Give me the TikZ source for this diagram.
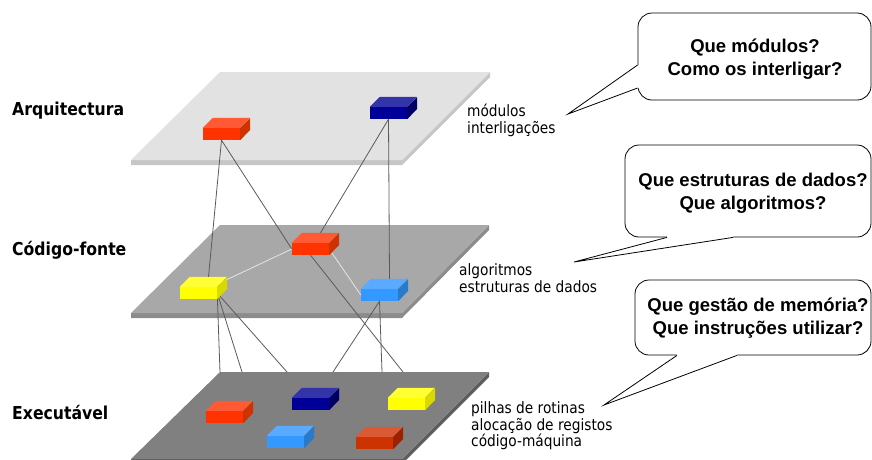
\documentclass[tikz,border=0pt]{standalone}
\usepackage{fontspec}
\setmainfont{Liberation Sans}
\newfontfamily\tahoma[FakeStretch=0.88]{DejaVu Sans}
\usetikzlibrary{calc}

\pgfdeclarelayer{planes}
\pgfdeclarelayer{links}
\pgfsetlayers{planes,links,main}

% plane colours: face / edge
\definecolor{pOneF}{HTML}{E2E2E2}\definecolor{pOneS}{HTML}{C6C6C6}
\definecolor{pTwoF}{HTML}{A8A8A8}\definecolor{pTwoS}{HTML}{8C8C8C}
\definecolor{pThrF}{HTML}{808080}\definecolor{pThrS}{HTML}{5E5E5E}
% block colours: front / top / side
\definecolor{redF}{HTML}{FF3300}\definecolor{redT}{HTML}{FF5A33}\definecolor{redS}{HTML}{CC3300}
\definecolor{navF}{HTML}{000099}\definecolor{navT}{HTML}{3333AA}\definecolor{navS}{HTML}{000066}
\definecolor{yelF}{HTML}{FFFF00}\definecolor{yelT}{HTML}{FFFF33}\definecolor{yelS}{HTML}{D9D900}
\definecolor{skyF}{HTML}{3399FF}\definecolor{skyT}{HTML}{5AAAFF}\definecolor{skyS}{HTML}{2A7ACC}
\definecolor{rstF}{HTML}{CC3300}\definecolor{rstT}{HTML}{D95A33}\definecolor{rstS}{HTML}{992200}
\definecolor{linkC}{HTML}{5A5A5A}
\definecolor{linkL}{HTML}{E4E4E4}

\tikzset{
  blockfront/.style={rectangle, inner sep=0pt, minimum width=37pt, minimum height=12pt, draw=none},
  link/.style={draw=linkC, line width=0.8pt},
  lightlink/.style={draw=linkL, line width=0.8pt},
  levelname/.style={anchor=west, inner sep=0pt, font=\tahoma\bfseries\fontsize{17.8}{21}\selectfont},
  levelnote/.style={anchor=north west, inner sep=0pt, align=left, font=\tahoma\fontsize{15.6}{16.7}\selectfont},
  callout/.style={rectangle, draw=black, line width=0.8pt, fill=white, rounded corners=14pt, inner sep=0pt},
  callouttext/.style={inner sep=0pt, align=center, font=\bfseries\fontsize{18.5}{23}\selectfont},
  pointer/.style={draw=black, line width=0.8pt},
}

% a small 3-D block: name, centre of front face, front / top / side colours
\newcommand{\block}[5]{%
  \node[blockfront, fill=#3] (#1) at (#2) {};
  \fill[#4] (#1.north west) -- ++(10,-10) -- ++(37,0) -- (#1.north east) -- cycle;
  \fill[#5] (#1.north east) -- ++(10,-10) -- ++(0,12) -- (#1.south east) -- cycle;
  \coordinate (#1-top) at ($(#1.north)+(10,-10)$);
}

\begin{document}
\begin{tikzpicture}[x=1pt, y=-1pt]
\useasboundingbox (0,0) rectangle (872,459);

% ---------- the three layers ----------
\begin{pgfonlayer}{planes}
  \fill[pOneS] (131,160) -- (402,160) -- (490,72) -- (490,77) -- (402,165) -- (131,165) -- cycle;
  \fill[pOneF] (220,72) -- (490,72) -- (402,160) -- (131,160) -- cycle;
  \fill[pTwoS] (131,313) -- (402,313) -- (489,225) -- (489,230) -- (402,318) -- (131,318) -- cycle;
  \fill[pTwoF] (220,225) -- (489,225) -- (402,313) -- (131,313) -- cycle;
  \fill[pThrS] (131,459) -- (402,459) -- (489,372) -- (489,377) -- (402,464) -- (131,464) -- cycle;
  \fill[pThrF] (220,372) -- (489,372) -- (402,459) -- (131,459) -- cycle;
\end{pgfonlayer}

% ---------- blocks ----------
% architecture
\block{aRed}{221.5,134}{redF}{redT}{redS}
\block{aNav}{388.5,113}{navF}{navT}{navS}
% source code
\block{sRed}{310.5,249}{redF}{redT}{redS}
\block{sYel}{198.5,293}{yelF}{yelT}{yelS}
\block{sSky}{379.5,295}{skyF}{skyT}{skyS}
% executable
\block{eRed}{224.5,417}{redF}{redT}{redS}
\block{eNav}{310.5,404}{navF}{navT}{navS}
\block{eYel}{406.5,404}{yelF}{yelT}{yelS}
\block{eSky}{285.5,442}{skyF}{skyT}{skyS}
\block{eRst}{374.5,443}{rstF}{rstT}{rstS}

% points on the upper edge of the executable layer
\coordinate (edgeA) at (220,372);
\coordinate (edgeB) at (242,372);
\coordinate (edgeC) at (287,372);
\coordinate (edgeD) at (333,372);
\coordinate (edgeE) at (382,372);
\coordinate (edgeF) at (403,372);

% ---------- connectors ----------
\begin{pgfonlayer}{links}
  \draw[link] (aRed.south) -- (sYel-top);
  \draw[link] (aRed.south) -- (sRed.west);
  \draw[link] (aNav.south) -- (sSky-top);
  \draw[link] (aNav.south) -- (sRed-top);
  \draw[lightlink] (sYel.center) -- (sRed.west);
  \draw[lightlink] (sRed.east) -- (sSky.west);
  \draw[link] (sYel.east) -- (edgeA);
  \draw[link] (sYel.east) -- (edgeB);
  \draw[link] (sYel.east) -- (edgeC);
  \draw[link] (sSky.south) -- (edgeD);
  \draw[link] (sSky.south) -- (edgeE);
  \draw[link] (sRed.south) -- (edgeF);
\end{pgfonlayer}

% ---------- level names ----------
\node[levelname] (nArq) at (12,111) {Arquitectura};
\node[levelname] (nCod) at (12,250) {Código-fonte};
\node[levelname] (nExe) at (12,412) {Executável};

% ---------- level notes ----------
\node[levelnote] (tArq) at (467,104) {módulos\\interligações};
\node[levelnote] (tCod) at (459,263.5) {algoritmos\\estruturas de dados};
\node[levelnote] (tExe) at (471,401.5) {pilhas de rotinas\\alocação de registos\\código-máquina};

% ---------- callouts ----------
\node[callout, minimum width=233pt, minimum height=87pt] (qArq) at (754.5,56.5) {};
\node[callout, minimum width=246pt, minimum height=92pt] (qCod) at (748,191) {};
\node[callout, minimum width=236pt, minimum height=75pt] (qExe) at (753,317.5) {};

\coordinate (tipArq) at (568,114);
\coordinate (tipCod) at (574,262);
\coordinate (tipExe) at (604,405);

% pointer of the architecture callout (left side)
\coordinate (aOne) at ($(qArq.west)+(0,8.5)$);
\coordinate (aTwo) at ($(qArq.west)+(0,31.5)$);
\fill[white] (aOne) -- (tipArq) -- (aTwo) -- ($(aTwo)+(2,0)$) -- ($(aOne)+(2,0)$) -- cycle;
\draw[pointer] (aOne) -- (tipArq) -- (aTwo);

% pointer of the source-code callout (bottom side)
\coordinate (cOne) at ($(qCod.south)+(-81,0)$);
\coordinate (cTwo) at ($(qCod.south)+(-15,0)$);
\fill[white] (cOne) -- (tipCod) -- (cTwo) -- ($(cTwo)+(0,-2)$) -- ($(cOne)+(0,-2)$) -- cycle;
\draw[pointer] (cOne) -- (tipCod) -- (cTwo);

% pointer of the executable callout (bottom side)
\coordinate (xOne) at ($(qExe.south)+(-76,0)$);
\coordinate (xTwo) at ($(qExe.south)+(-16,0)$);
\fill[white] (xOne) -- (tipExe) -- (xTwo) -- ($(xTwo)+(0,-2)$) -- ($(xOne)+(0,-2)$) -- cycle;
\draw[pointer] (xOne) -- (tipExe) -- (xTwo);

% callout texts
\node[callouttext] (kArq) at (755,59.5) {Que módulos?\\Como os interligar?};
\node[callouttext] (kCod) at (753,193.5) {Que estruturas de dados?\\Que algoritmos?};
\node[callouttext] (kExe) at (758,318) {Que gestão de memória?\\Que instruções utilizar?};
\end{tikzpicture}
\end{document}
